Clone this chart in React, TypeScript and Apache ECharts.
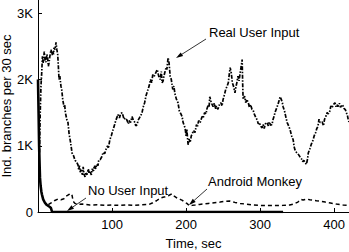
import React, { useEffect, useRef } from "react";
import * as echarts from "echarts";

// Time (sec), value (branches per 30 sec)
const realUserInput: [number, number][] = [
  [2, 900], [3, 1500], [4, 1900], [5, 2100], [6, 2350], [7, 2250], [8.5, 2420], [9.5, 2300], [10.8, 2260], [12, 2380],
  [13, 2330], [14, 2200], [14.9, 2250], [16, 2350], [17.6, 2450], [19, 2370], [19.9, 2420], [21, 2380], [21.6, 2480], [23, 2450],
  [24.3, 2560], [25.5, 2450], [26.6, 2380], [27.5, 2200], [28.4, 2000], [29.5, 2050], [31, 1900], [32, 1850], [33.4, 1700], [35, 1590],
  [36, 1620], [37, 1500], [39, 1390], [40.5, 1350], [42, 1180], [44, 1050], [46, 890], [48, 850], [50, 780], [52, 760],
  [54, 710], [55, 640], [56, 700], [57, 600], [58, 650], [60, 560], [61, 680], [62, 580], [63.5, 530], [65, 600],
  [66, 560], [68, 650], [69, 580], [70, 620], [72, 560], [73, 650], [75, 620], [76, 700], [78, 650], [79, 720],
  [81, 700], [82, 780], [84, 790], [86, 830], [88, 900], [90, 880], [92, 950], [94, 1000], [95, 960], [97, 1090],
  [99, 1150], [101, 1230], [103, 1300], [105, 1380], [107, 1440], [108, 1470], [110, 1420], [111.5, 1480], [113.5, 1500], [115, 1450],
  [116, 1400], [118, 1420], [120, 1390], [122, 1330], [123, 1380], [125, 1350], [127, 1440], [129, 1380], [131, 1350], [132, 1300],
  [134, 1320], [135, 1380], [137, 1420], [139, 1460], [140.5, 1500], [142, 1580], [144, 1650], [146, 1760], [148.6, 1850], [150, 1900],
  [152, 2000], [153.5, 1950], [155, 2075], [157, 2050], [159, 2100], [161, 2150], [163, 2050], [165, 2000], [166.5, 2120], [167.6, 1950],
  [169, 1980], [170, 2050], [171.6, 2120], [173, 2180], [174, 2150], [175.7, 2330], [177, 2250], [178.5, 2050], [180, 2000], [182, 1850],
  [183.5, 1900], [185, 1780], [187, 1700], [189, 1650], [191, 1520], [193, 1480], [194.6, 1440], [196, 1350], [198.6, 1270], [200, 1150],
  [201, 1250], [202.7, 1015], [204, 1100], [205.5, 1050], [207, 1150], [208, 1170], [210, 1230], [212, 1200], [214, 1320], [215, 1280],
  [217, 1380], [219, 1350], [221.6, 1440], [223, 1420], [225, 1500], [227, 1480], [228, 1550], [230, 1620], [231, 1580], [232, 1740],
  [234, 1650], [236.5, 1590], [238, 1640], [240, 1560], [241, 1600], [243, 1550], [245, 1620], [247, 1650], [248.5, 1600], [250, 1700],
  [252, 1780], [253.5, 1850], [255.4, 1900], [257, 1950], [258, 2050], [259.5, 2180], [261, 2100], [262.5, 1950], [264, 1900], [266, 1800],
  [267.5, 1900], [268.5, 1950], [270, 2050], [271.5, 1980], [273, 2100], [274.5, 2200], [275.7, 2300], [276.5, 1900], [277, 1700], [279, 1750],
  [280.5, 1650], [282, 1700], [284, 1650], [285.5, 1580], [287, 1620], [289, 1550], [290.5, 1540], [292, 1480], [294, 1430], [296, 1390],
  [297.5, 1330], [299, 1350], [301, 1290], [302.7, 1270], [304, 1320], [305.5, 1260], [307, 1330], [309.5, 1350], [311, 1300], [312.5, 1360],
  [314, 1310], [316, 1320], [317.5, 1400], [319, 1450], [320, 1500], [322, 1560], [324, 1620], [325.5, 1680], [327, 1740], [328.5, 1700],
  [330, 1650], [331, 1590], [333, 1520], [335, 1420], [336.5, 1350], [338.5, 1300], [340.5, 1240], [342.5, 1150], [344.6, 1090], [346, 980],
  [347, 940], [349, 900], [351, 880], [354, 830], [356, 800], [357.5, 760], [359, 780], [361, 740], [362.5, 720], [364, 800],
  [365, 890], [367, 950], [369, 1020], [371.6, 1090], [373, 1150], [375, 1200], [376.5, 1260], [378, 1290], [379.5, 1400], [381, 1350],
  [383.8, 1360], [385.5, 1300], [387, 1400], [389, 1450], [390.5, 1500], [392, 1480], [394, 1520], [395.5, 1600], [397, 1575], [399, 1620],
  [401, 1650], [402.5, 1590], [404, 1620], [405, 1590], [407, 1640], [408.5, 1580], [410.8, 1620], [412, 1600], [413.5, 1560], [415, 1545],
  [416.5, 1500], [418, 1450], [419, 1390], [420, 1360],
];

const androidMonkey: [number, number][] = [
  [14, 110], [17.6, 136], [22, 170], [27, 197], [31, 185], [35, 200], [38, 240], [41, 260], [44.6, 280], [46, 250],
  [47.5, 160], [50, 130], [55, 115], [60, 120], [70, 105], [80, 110], [90, 100], [100, 105], [110, 100], [120, 108],
  [130, 100], [140, 110], [150, 115], [155, 140], [160, 170], [165, 210], [170, 225], [176, 245], [181, 275], [184, 240],
  [188, 210], [192, 190], [195, 175], [198, 150], [201, 130], [205, 90], [208, 100], [212, 105], [218, 115], [223, 120],
  [230, 130], [238, 140], [246, 150], [252, 160], [259, 165], [266, 145], [273, 130], [280, 120], [290, 105], [300, 100],
  [310, 100], [320, 100], [330, 100], [340, 105], [345, 120], [351, 150], [355, 190], [358, 180], [363, 195], [367, 185],
  [370, 180], [376, 170], [381, 165], [388, 150], [395, 136], [403, 120], [412, 105], [420, 100],
];

const noUserInput: [number, number][] = [
  [0, 2000], [0.8, 1500], [1.5, 1000], [2.2, 700], [2.7, 515], [3.5, 400], [4.5, 310], [5.4, 260], [7, 190], [9.5, 136],
  [12, 105], [16, 75], [17.5, 60], [19, 0], [331, 0],
];

const yTicks = [0, 1000, 2000, 3000];
const yTickLabels = ["0", "1K", "2K", "3K"];
const xTickLabels = ["100", "200", "300", "400"];

const FONT = "Liberation Sans";

function arrow(x1: number, y1: number, x2: number, y2: number) {
  const dx = x2 - x1, dy = y2 - y1;
  const L = Math.hypot(dx, dy);
  const ux = dx / L, uy = dy / L;
  const hl = 7, hw = 2.2;
  const bx = x2 - ux * hl, by = y2 - uy * hl;
  return [
    { type: "line", shape: { x1, y1, x2: bx, y2: by }, style: { stroke: "#000", lineWidth: 0.8 } },
    {
      type: "polygon",
      shape: { points: [[x2, y2], [bx - uy * hw, by + ux * hw], [bx + uy * hw, by - ux * hw]] },
      style: { fill: "#000" },
    },
  ];
}

function label(text: string, x: number, y: number) {
  return {
    type: "text",
    x,
    y,
    style: { text, fontFamily: FONT, fontSize: 13, fill: "#000", align: "left", verticalAlign: "middle" },
  };
}

export default function App() {
  const ref = useRef<HTMLDivElement>(null);
  useEffect(() => {
    if (!ref.current) return;
    const chart = echarts.init(ref.current, undefined, { renderer: "svg" });
    chart.setOption({
      animation: false,
      backgroundColor: "#fff",
      textStyle: { fontFamily: FONT },
      grid: { left: 38, right: 0, top: 0, bottom: 40, containLabel: false, outerBoundsMode: "none" },
      xAxis: {
        type: "value",
        min: 0,
        max: 420,
        interval: 100,
        name: "Time, sec",
        nameLocation: "middle",
        nameGap: 25,
        nameMoveOverlap: false,
        nameTextStyle: { fontFamily: FONT, fontSize: 13, color: "#000" },
        axisLine: { show: true, lineStyle: { color: "#000", width: 1 } },
        axisTick: { show: true, inside: true, length: 4, lineStyle: { color: "#000" } },
        axisLabel: {
          showMinLabel: false,
          showMaxLabel: false,
          margin: 6,
          fontFamily: FONT,
          fontSize: 13,
          color: "#000",
          formatter: (v: number) => (xTickLabels.includes(String(v)) ? String(v) : ""),
        },
        splitLine: { show: false },
      },
      yAxis: {
        type: "value",
        min: 0,
        max: 3200,
        interval: 1000,
        name: "Ind. branches per 30 sec",
        nameLocation: "middle",
        nameGap: 25,
        nameMoveOverlap: false,
        nameTextStyle: { fontFamily: FONT, fontSize: 13, color: "#000" },
        axisLine: { show: true, lineStyle: { color: "#000", width: 1 } },
        axisTick: { show: true, inside: true, length: 4, lineStyle: { color: "#000" } },
        axisLabel: {
          showMaxLabel: false,
          margin: 5,
          fontFamily: FONT,
          fontSize: 13,
          color: "#000",
          formatter: (v: number) => {
            const i = yTicks.indexOf(v);
            return i >= 0 ? yTickLabels[i] : "";
          },
        },
        splitLine: { show: false },
      },
      series: [
        {
          name: "Real User Input",
          type: "line",
          data: realUserInput,
          showSymbol: false,
          symbol: "none",
          lineStyle: { color: "#000", width: 1.7, type: [4, 1.5, 1.5, 1.5] },
          z: 3,
        },
        {
          name: "Android Monkey",
          type: "line",
          data: androidMonkey,
          showSymbol: false,
          symbol: "none",
          lineStyle: { color: "#000", width: 1.5, type: [4, 3] },
          z: 3,
        },
        {
          name: "No User Input",
          type: "line",
          data: noUserInput,
          showSymbol: false,
          symbol: "none",
          lineStyle: { color: "#000", width: 2.6, type: "solid" },
          z: 4,
        },
      ],
      graphic: [
        label("Real User Input", 209, 32),
        ...arrow(206, 39, 176, 58),
        label("No User Input", 88, 190),
        ...arrow(86, 198, 67, 211),
        label("Android Monkey", 208, 181),
        ...arrow(207, 189, 189, 205),
      ],
    });
    return () => chart.dispose();
  }, []);
  return (
    <div
      ref={ref}
      style={{ position: "fixed", left: 0, top: 0, width: 349, height: 252 }}
    />
  );
}
